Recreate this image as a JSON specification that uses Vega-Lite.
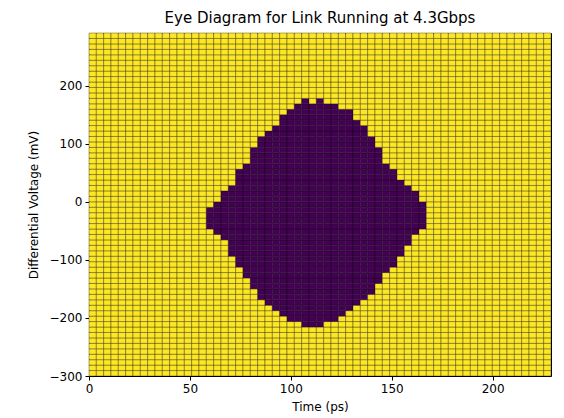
{
  "$schema": "https://vega.github.io/schema/vega-lite/v6.json",
  "width": 462,
  "height": 343,
  "autosize": {"type": "none"},
  "padding": {"left": 89, "top": 33, "right": 13, "bottom": 42},
  "background": "white",
  "title": {
    "text": "Eye Diagram for Link Running at 4.3Gbps",
    "font": "DejaVu Sans",
    "fontSize": 15,
    "fontWeight": "normal",
    "color": "black",
    "anchor": "middle",
    "offset": 7
  },
  "config": {
    "view": {"stroke": "black", "strokeWidth": 1},
    "axis": {
      "labelFont": "DejaVu Sans",
      "labelFontSize": 12,
      "labelColor": "black",
      "labelFlush": false,
      "titleFont": "DejaVu Sans",
      "titleFontSize": 12,
      "titleFontWeight": "normal",
      "titleColor": "black",
      "tickColor": "black",
      "tickSize": 4,
      "domain": false,
      "grid": false
    }
  },
  "datasets": {
    "cols": [
      {"c": 1, "t0": 0, "t1": 3.63}, {"c": 2, "t0": 3.63, "t1": 7.27}, {"c": 3, "t0": 7.27, "t1": 10.9},
      {"c": 4, "t0": 10.9, "t1": 14.53}, {"c": 5, "t0": 14.53, "t1": 18.17}, {"c": 6, "t0": 18.17, "t1": 21.8},
      {"c": 7, "t0": 21.8, "t1": 25.44}, {"c": 8, "t0": 25.44, "t1": 29.07}, {"c": 9, "t0": 29.07, "t1": 32.7},
      {"c": 10, "t0": 32.7, "t1": 36.34}, {"c": 11, "t0": 36.34, "t1": 39.97}, {"c": 12, "t0": 39.97, "t1": 43.6},
      {"c": 13, "t0": 43.6, "t1": 47.24}, {"c": 14, "t0": 47.24, "t1": 50.87}, {"c": 15, "t0": 50.87, "t1": 54.51},
      {"c": 16, "t0": 54.51, "t1": 58.14}, {"c": 17, "t0": 58.14, "t1": 61.77}, {"c": 18, "t0": 61.77, "t1": 65.41},
      {"c": 19, "t0": 65.41, "t1": 69.04}, {"c": 20, "t0": 69.04, "t1": 72.67}, {"c": 21, "t0": 72.67, "t1": 76.31},
      {"c": 22, "t0": 76.31, "t1": 79.94}, {"c": 23, "t0": 79.94, "t1": 83.58}, {"c": 24, "t0": 83.58, "t1": 87.21},
      {"c": 25, "t0": 87.21, "t1": 90.84}, {"c": 26, "t0": 90.84, "t1": 94.48}, {"c": 27, "t0": 94.48, "t1": 98.11},
      {"c": 28, "t0": 98.11, "t1": 101.74}, {"c": 29, "t0": 101.74, "t1": 105.38}, {"c": 30, "t0": 105.38, "t1": 109.01},
      {"c": 31, "t0": 109.01, "t1": 112.65}, {"c": 32, "t0": 112.65, "t1": 116.28}, {"c": 33, "t0": 116.28, "t1": 119.91},
      {"c": 34, "t0": 119.91, "t1": 123.55}, {"c": 35, "t0": 123.55, "t1": 127.18}, {"c": 36, "t0": 127.18, "t1": 130.81},
      {"c": 37, "t0": 130.81, "t1": 134.45}, {"c": 38, "t0": 134.45, "t1": 138.08}, {"c": 39, "t0": 138.08, "t1": 141.72},
      {"c": 40, "t0": 141.72, "t1": 145.35}, {"c": 41, "t0": 145.35, "t1": 148.98}, {"c": 42, "t0": 148.98, "t1": 152.62},
      {"c": 43, "t0": 152.62, "t1": 156.25}, {"c": 44, "t0": 156.25, "t1": 159.88}, {"c": 45, "t0": 159.88, "t1": 163.52},
      {"c": 46, "t0": 163.52, "t1": 167.15}, {"c": 47, "t0": 167.15, "t1": 170.78}, {"c": 48, "t0": 170.78, "t1": 174.42},
      {"c": 49, "t0": 174.42, "t1": 178.05}, {"c": 50, "t0": 178.05, "t1": 181.69}, {"c": 51, "t0": 181.69, "t1": 185.32},
      {"c": 52, "t0": 185.32, "t1": 188.95}, {"c": 53, "t0": 188.95, "t1": 192.59}, {"c": 54, "t0": 192.59, "t1": 196.22},
      {"c": 55, "t0": 196.22, "t1": 199.85}, {"c": 56, "t0": 199.85, "t1": 203.49}, {"c": 57, "t0": 203.49, "t1": 207.12},
      {"c": 58, "t0": 207.12, "t1": 210.76}, {"c": 59, "t0": 210.76, "t1": 214.39}, {"c": 60, "t0": 214.39, "t1": 218.02},
      {"c": 61, "t0": 218.02, "t1": 221.66}, {"c": 62, "t0": 221.66, "t1": 225.29}, {"c": 63, "t0": 225.29, "t1": 228.92}
    ],
    "rows": [
      {"v0": -300, "v1": -290.625, "s": [1,1,1,1,1,1,1,1,1,1, 1,1,1,1,1,1,1,1,1,1, 1,1,1,1,1,1,1,1,1,1, 1,1,1,1,1,1,1,1,1,1, 1,1,1,1,1,1,1,1,1,1, 1,1,1,1,1,1,1,1,1,1, 1,1,1]},
      {"v0": -290.625, "v1": -281.25, "s": [1,1,1,1,1,1,1,1,1,1, 1,1,1,1,1,1,1,1,1,1, 1,1,1,1,1,1,1,1,1,1, 1,1,1,1,1,1,1,1,1,1, 1,1,1,1,1,1,1,1,1,1, 1,1,1,1,1,1,1,1,1,1, 1,1,1]},
      {"v0": -281.25, "v1": -271.875, "s": [1,1,1,1,1,1,1,1,1,1, 1,1,1,1,1,1,1,1,1,1, 1,1,1,1,1,1,1,1,1,1, 1,1,1,1,1,1,1,1,1,1, 1,1,1,1,1,1,1,1,1,1, 1,1,1,1,1,1,1,1,1,1, 1,1,1]},
      {"v0": -271.875, "v1": -262.5, "s": [1,1,1,1,1,1,1,1,1,1, 1,1,1,1,1,1,1,1,1,1, 1,1,1,1,1,1,1,1,1,1, 1,1,1,1,1,1,1,1,1,1, 1,1,1,1,1,1,1,1,1,1, 1,1,1,1,1,1,1,1,1,1, 1,1,1]},
      {"v0": -262.5, "v1": -253.125, "s": [1,1,1,1,1,1,1,1,1,1, 1,1,1,1,1,1,1,1,1,1, 1,1,1,1,1,1,1,1,1,1, 1,1,1,1,1,1,1,1,1,1, 1,1,1,1,1,1,1,1,1,1, 1,1,1,1,1,1,1,1,1,1, 1,1,1]},
      {"v0": -253.125, "v1": -243.75, "s": [1,1,1,1,1,1,1,1,1,1, 1,1,1,1,1,1,1,1,1,1, 1,1,1,1,1,1,1,1,1,1, 1,1,1,1,1,1,1,1,1,1, 1,1,1,1,1,1,1,1,1,1, 1,1,1,1,1,1,1,1,1,1, 1,1,1]},
      {"v0": -243.75, "v1": -234.375, "s": [1,1,1,1,1,1,1,1,1,1, 1,1,1,1,1,1,1,1,1,1, 1,1,1,1,1,1,1,1,1,1, 1,1,1,1,1,1,1,1,1,1, 1,1,1,1,1,1,1,1,1,1, 1,1,1,1,1,1,1,1,1,1, 1,1,1]},
      {"v0": -234.375, "v1": -225, "s": [1,1,1,1,1,1,1,1,1,1, 1,1,1,1,1,1,1,1,1,1, 1,1,1,1,1,1,1,1,1,1, 1,1,1,1,1,1,1,1,1,1, 1,1,1,1,1,1,1,1,1,1, 1,1,1,1,1,1,1,1,1,1, 1,1,1]},
      {"v0": -225, "v1": -215.625, "s": [1,1,1,1,1,1,1,1,1,1, 1,1,1,1,1,1,1,1,1,1, 1,1,1,1,1,1,1,1,1,1, 1,1,1,1,1,1,1,1,1,1, 1,1,1,1,1,1,1,1,1,1, 1,1,1,1,1,1,1,1,1,1, 1,1,1]},
      {"v0": -215.625, "v1": -206.25, "s": [1,1,1,1,1,1,1,1,1,1, 1,1,1,1,1,1,1,1,1,1, 1,1,1,1,1,1,1,1,1,0, 0,0,1,1,1,1,1,1,1,1, 1,1,1,1,1,1,1,1,1,1, 1,1,1,1,1,1,1,1,1,1, 1,1,1]},
      {"v0": -206.25, "v1": -196.875, "s": [1,1,1,1,1,1,1,1,1,1, 1,1,1,1,1,1,1,1,1,1, 1,1,1,1,1,1,1,0,0,0, 0,0,0,0,1,1,1,1,1,1, 1,1,1,1,1,1,1,1,1,1, 1,1,1,1,1,1,1,1,1,1, 1,1,1]},
      {"v0": -196.875, "v1": -187.5, "s": [1,1,1,1,1,1,1,1,1,1, 1,1,1,1,1,1,1,1,1,1, 1,1,1,1,1,1,0,0,0,0, 0,0,0,0,0,1,1,1,1,1, 1,1,1,1,1,1,1,1,1,1, 1,1,1,1,1,1,1,1,1,1, 1,1,1]},
      {"v0": -187.5, "v1": -178.125, "s": [1,1,1,1,1,1,1,1,1,1, 1,1,1,1,1,1,1,1,1,1, 1,1,1,1,1,0,0,0,0,0, 0,0,0,0,0,0,1,1,1,1, 1,1,1,1,1,1,1,1,1,1, 1,1,1,1,1,1,1,1,1,1, 1,1,1]},
      {"v0": -178.125, "v1": -168.75, "s": [1,1,1,1,1,1,1,1,1,1, 1,1,1,1,1,1,1,1,1,1, 1,1,1,1,0,0,0,0,0,0, 0,0,0,0,0,0,0,1,1,1, 1,1,1,1,1,1,1,1,1,1, 1,1,1,1,1,1,1,1,1,1, 1,1,1]},
      {"v0": -168.75, "v1": -159.375, "s": [1,1,1,1,1,1,1,1,1,1, 1,1,1,1,1,1,1,1,1,1, 1,1,1,0,0,0,0,0,0,0, 0,0,0,0,0,0,0,0,1,1, 1,1,1,1,1,1,1,1,1,1, 1,1,1,1,1,1,1,1,1,1, 1,1,1]},
      {"v0": -159.375, "v1": -150, "s": [1,1,1,1,1,1,1,1,1,1, 1,1,1,1,1,1,1,1,1,1, 1,1,1,0,0,0,0,0,0,0, 0,0,0,0,0,0,0,0,0,1, 1,1,1,1,1,1,1,1,1,1, 1,1,1,1,1,1,1,1,1,1, 1,1,1]},
      {"v0": -150, "v1": -140.625, "s": [1,1,1,1,1,1,1,1,1,1, 1,1,1,1,1,1,1,1,1,1, 1,1,0,0,0,0,0,0,0,0, 0,0,0,0,0,0,0,0,0,1, 1,1,1,1,1,1,1,1,1,1, 1,1,1,1,1,1,1,1,1,1, 1,1,1]},
      {"v0": -140.625, "v1": -131.25, "s": [1,1,1,1,1,1,1,1,1,1, 1,1,1,1,1,1,1,1,1,1, 1,1,0,0,0,0,0,0,0,0, 0,0,0,0,0,0,0,0,0,0, 1,1,1,1,1,1,1,1,1,1, 1,1,1,1,1,1,1,1,1,1, 1,1,1]},
      {"v0": -131.25, "v1": -121.875, "s": [1,1,1,1,1,1,1,1,1,1, 1,1,1,1,1,1,1,1,1,1, 1,0,0,0,0,0,0,0,0,0, 0,0,0,0,0,0,0,0,0,0, 1,1,1,1,1,1,1,1,1,1, 1,1,1,1,1,1,1,1,1,1, 1,1,1]},
      {"v0": -121.875, "v1": -112.5, "s": [1,1,1,1,1,1,1,1,1,1, 1,1,1,1,1,1,1,1,1,1, 1,0,0,0,0,0,0,0,0,0, 0,0,0,0,0,0,0,0,0,0, 0,1,1,1,1,1,1,1,1,1, 1,1,1,1,1,1,1,1,1,1, 1,1,1]},
      {"v0": -112.5, "v1": -103.125, "s": [1,1,1,1,1,1,1,1,1,1, 1,1,1,1,1,1,1,1,1,1, 0,0,0,0,0,0,0,0,0,0, 0,0,0,0,0,0,0,0,0,0, 0,0,1,1,1,1,1,1,1,1, 1,1,1,1,1,1,1,1,1,1, 1,1,1]},
      {"v0": -103.125, "v1": -93.75, "s": [1,1,1,1,1,1,1,1,1,1, 1,1,1,1,1,1,1,1,1,1, 0,0,0,0,0,0,0,0,0,0, 0,0,0,0,0,0,0,0,0,0, 0,0,1,1,1,1,1,1,1,1, 1,1,1,1,1,1,1,1,1,1, 1,1,1]},
      {"v0": -93.75, "v1": -84.375, "s": [1,1,1,1,1,1,1,1,1,1, 1,1,1,1,1,1,1,1,1,0, 0,0,0,0,0,0,0,0,0,0, 0,0,0,0,0,0,0,0,0,0, 0,0,0,1,1,1,1,1,1,1, 1,1,1,1,1,1,1,1,1,1, 1,1,1]},
      {"v0": -84.375, "v1": -75, "s": [1,1,1,1,1,1,1,1,1,1, 1,1,1,1,1,1,1,1,1,0, 0,0,0,0,0,0,0,0,0,0, 0,0,0,0,0,0,0,0,0,0, 0,0,0,1,1,1,1,1,1,1, 1,1,1,1,1,1,1,1,1,1, 1,1,1]},
      {"v0": -75, "v1": -65.625, "s": [1,1,1,1,1,1,1,1,1,1, 1,1,1,1,1,1,1,1,1,0, 0,0,0,0,0,0,0,0,0,0, 0,0,0,0,0,0,0,0,0,0, 0,0,0,0,1,1,1,1,1,1, 1,1,1,1,1,1,1,1,1,1, 1,1,1]},
      {"v0": -65.625, "v1": -56.25, "s": [1,1,1,1,1,1,1,1,1,1, 1,1,1,1,1,1,1,1,0,0, 0,0,0,0,0,0,0,0,0,0, 0,0,0,0,0,0,0,0,0,0, 0,0,0,0,1,1,1,1,1,1, 1,1,1,1,1,1,1,1,1,1, 1,1,1]},
      {"v0": -56.25, "v1": -46.875, "s": [1,1,1,1,1,1,1,1,1,1, 1,1,1,1,1,1,1,0,0,0, 0,0,0,0,0,0,0,0,0,0, 0,0,0,0,0,0,0,0,0,0, 0,0,0,0,0,1,1,1,1,1, 1,1,1,1,1,1,1,1,1,1, 1,1,1]},
      {"v0": -46.875, "v1": -37.5, "s": [1,1,1,1,1,1,1,1,1,1, 1,1,1,1,1,1,0,0,0,0, 0,0,0,0,0,0,0,0,0,0, 0,0,0,0,0,0,0,0,0,0, 0,0,0,0,0,0,1,1,1,1, 1,1,1,1,1,1,1,1,1,1, 1,1,1]},
      {"v0": -37.5, "v1": -28.125, "s": [1,1,1,1,1,1,1,1,1,1, 1,1,1,1,1,1,0,0,0,0, 0,0,0,0,0,0,0,0,0,0, 0,0,0,0,0,0,0,0,0,0, 0,0,0,0,0,0,1,1,1,1, 1,1,1,1,1,1,1,1,1,1, 1,1,1]},
      {"v0": -28.125, "v1": -18.75, "s": [1,1,1,1,1,1,1,1,1,1, 1,1,1,1,1,1,0,0,0,0, 0,0,0,0,0,0,0,0,0,0, 0,0,0,0,0,0,0,0,0,0, 0,0,0,0,0,0,1,1,1,1, 1,1,1,1,1,1,1,1,1,1, 1,1,1]},
      {"v0": -18.75, "v1": -9.375, "s": [1,1,1,1,1,1,1,1,1,1, 1,1,1,1,1,1,0,0,0,0, 0,0,0,0,0,0,0,0,0,0, 0,0,0,0,0,0,0,0,0,0, 0,0,0,0,0,0,1,1,1,1, 1,1,1,1,1,1,1,1,1,1, 1,1,1]},
      {"v0": -9.375, "v1": 0, "s": [1,1,1,1,1,1,1,1,1,1, 1,1,1,1,1,1,1,0,0,0, 0,0,0,0,0,0,0,0,0,0, 0,0,0,0,0,0,0,0,0,0, 0,0,0,0,0,0,1,1,1,1, 1,1,1,1,1,1,1,1,1,1, 1,1,1]},
      {"v0": 0, "v1": 9.375, "s": [1,1,1,1,1,1,1,1,1,1, 1,1,1,1,1,1,1,1,0,0, 0,0,0,0,0,0,0,0,0,0, 0,0,0,0,0,0,0,0,0,0, 0,0,0,0,0,1,1,1,1,1, 1,1,1,1,1,1,1,1,1,1, 1,1,1]},
      {"v0": 9.375, "v1": 18.75, "s": [1,1,1,1,1,1,1,1,1,1, 1,1,1,1,1,1,1,1,0,0, 0,0,0,0,0,0,0,0,0,0, 0,0,0,0,0,0,0,0,0,0, 0,0,0,0,0,1,1,1,1,1, 1,1,1,1,1,1,1,1,1,1, 1,1,1]},
      {"v0": 18.75, "v1": 28.125, "s": [1,1,1,1,1,1,1,1,1,1, 1,1,1,1,1,1,1,1,1,0, 0,0,0,0,0,0,0,0,0,0, 0,0,0,0,0,0,0,0,0,0, 0,0,0,0,1,1,1,1,1,1, 1,1,1,1,1,1,1,1,1,1, 1,1,1]},
      {"v0": 28.125, "v1": 37.5, "s": [1,1,1,1,1,1,1,1,1,1, 1,1,1,1,1,1,1,1,1,1, 0,0,0,0,0,0,0,0,0,0, 0,0,0,0,0,0,0,0,0,0, 0,0,0,1,1,1,1,1,1,1, 1,1,1,1,1,1,1,1,1,1, 1,1,1]},
      {"v0": 37.5, "v1": 46.875, "s": [1,1,1,1,1,1,1,1,1,1, 1,1,1,1,1,1,1,1,1,1, 0,0,0,0,0,0,0,0,0,0, 0,0,0,0,0,0,0,0,0,0, 0,0,1,1,1,1,1,1,1,1, 1,1,1,1,1,1,1,1,1,1, 1,1,1]},
      {"v0": 46.875, "v1": 56.25, "s": [1,1,1,1,1,1,1,1,1,1, 1,1,1,1,1,1,1,1,1,1, 0,0,0,0,0,0,0,0,0,0, 0,0,0,0,0,0,0,0,0,0, 0,0,1,1,1,1,1,1,1,1, 1,1,1,1,1,1,1,1,1,1, 1,1,1]},
      {"v0": 56.25, "v1": 65.625, "s": [1,1,1,1,1,1,1,1,1,1, 1,1,1,1,1,1,1,1,1,1, 1,0,0,0,0,0,0,0,0,0, 0,0,0,0,0,0,0,0,0,0, 0,1,1,1,1,1,1,1,1,1, 1,1,1,1,1,1,1,1,1,1, 1,1,1]},
      {"v0": 65.625, "v1": 75, "s": [1,1,1,1,1,1,1,1,1,1, 1,1,1,1,1,1,1,1,1,1, 1,1,0,0,0,0,0,0,0,0, 0,0,0,0,0,0,0,0,0,0, 1,1,1,1,1,1,1,1,1,1, 1,1,1,1,1,1,1,1,1,1, 1,1,1]},
      {"v0": 75, "v1": 84.375, "s": [1,1,1,1,1,1,1,1,1,1, 1,1,1,1,1,1,1,1,1,1, 1,1,0,0,0,0,0,0,0,0, 0,0,0,0,0,0,0,0,0,0, 1,1,1,1,1,1,1,1,1,1, 1,1,1,1,1,1,1,1,1,1, 1,1,1]},
      {"v0": 84.375, "v1": 93.75, "s": [1,1,1,1,1,1,1,1,1,1, 1,1,1,1,1,1,1,1,1,1, 1,1,0,0,0,0,0,0,0,0, 0,0,0,0,0,0,0,0,0,0, 1,1,1,1,1,1,1,1,1,1, 1,1,1,1,1,1,1,1,1,1, 1,1,1]},
      {"v0": 93.75, "v1": 103.125, "s": [1,1,1,1,1,1,1,1,1,1, 1,1,1,1,1,1,1,1,1,1, 1,1,1,0,0,0,0,0,0,0, 0,0,0,0,0,0,0,0,0,1, 1,1,1,1,1,1,1,1,1,1, 1,1,1,1,1,1,1,1,1,1, 1,1,1]},
      {"v0": 103.125, "v1": 112.5, "s": [1,1,1,1,1,1,1,1,1,1, 1,1,1,1,1,1,1,1,1,1, 1,1,1,0,0,0,0,0,0,0, 0,0,0,0,0,0,0,0,0,1, 1,1,1,1,1,1,1,1,1,1, 1,1,1,1,1,1,1,1,1,1, 1,1,1]},
      {"v0": 112.5, "v1": 121.875, "s": [1,1,1,1,1,1,1,1,1,1, 1,1,1,1,1,1,1,1,1,1, 1,1,1,1,0,0,0,0,0,0, 0,0,0,0,0,0,0,0,1,1, 1,1,1,1,1,1,1,1,1,1, 1,1,1,1,1,1,1,1,1,1, 1,1,1]},
      {"v0": 121.875, "v1": 131.25, "s": [1,1,1,1,1,1,1,1,1,1, 1,1,1,1,1,1,1,1,1,1, 1,1,1,1,1,0,0,0,0,0, 0,0,0,0,0,0,0,0,1,1, 1,1,1,1,1,1,1,1,1,1, 1,1,1,1,1,1,1,1,1,1, 1,1,1]},
      {"v0": 131.25, "v1": 140.625, "s": [1,1,1,1,1,1,1,1,1,1, 1,1,1,1,1,1,1,1,1,1, 1,1,1,1,1,1,0,0,0,0, 0,0,0,0,0,0,0,1,1,1, 1,1,1,1,1,1,1,1,1,1, 1,1,1,1,1,1,1,1,1,1, 1,1,1]},
      {"v0": 140.625, "v1": 150, "s": [1,1,1,1,1,1,1,1,1,1, 1,1,1,1,1,1,1,1,1,1, 1,1,1,1,1,1,0,0,0,0, 0,0,0,0,0,0,1,1,1,1, 1,1,1,1,1,1,1,1,1,1, 1,1,1,1,1,1,1,1,1,1, 1,1,1]},
      {"v0": 150, "v1": 159.375, "s": [1,1,1,1,1,1,1,1,1,1, 1,1,1,1,1,1,1,1,1,1, 1,1,1,1,1,1,1,0,0,0, 0,0,0,0,0,0,1,1,1,1, 1,1,1,1,1,1,1,1,1,1, 1,1,1,1,1,1,1,1,1,1, 1,1,1]},
      {"v0": 159.375, "v1": 168.75, "s": [1,1,1,1,1,1,1,1,1,1, 1,1,1,1,1,1,1,1,1,1, 1,1,1,1,1,1,1,1,0,0, 0,0,0,0,1,1,1,1,1,1, 1,1,1,1,1,1,1,1,1,1, 1,1,1,1,1,1,1,1,1,1, 1,1,1]},
      {"v0": 168.75, "v1": 178.125, "s": [1,1,1,1,1,1,1,1,1,1, 1,1,1,1,1,1,1,1,1,1, 1,1,1,1,1,1,1,1,1,0, 1,0,1,1,1,1,1,1,1,1, 1,1,1,1,1,1,1,1,1,1, 1,1,1,1,1,1,1,1,1,1, 1,1,1]},
      {"v0": 178.125, "v1": 187.5, "s": [1,1,1,1,1,1,1,1,1,1, 1,1,1,1,1,1,1,1,1,1, 1,1,1,1,1,1,1,1,1,1, 1,1,1,1,1,1,1,1,1,1, 1,1,1,1,1,1,1,1,1,1, 1,1,1,1,1,1,1,1,1,1, 1,1,1]},
      {"v0": 187.5, "v1": 196.875, "s": [1,1,1,1,1,1,1,1,1,1, 1,1,1,1,1,1,1,1,1,1, 1,1,1,1,1,1,1,1,1,1, 1,1,1,1,1,1,1,1,1,1, 1,1,1,1,1,1,1,1,1,1, 1,1,1,1,1,1,1,1,1,1, 1,1,1]},
      {"v0": 196.875, "v1": 206.25, "s": [1,1,1,1,1,1,1,1,1,1, 1,1,1,1,1,1,1,1,1,1, 1,1,1,1,1,1,1,1,1,1, 1,1,1,1,1,1,1,1,1,1, 1,1,1,1,1,1,1,1,1,1, 1,1,1,1,1,1,1,1,1,1, 1,1,1]},
      {"v0": 206.25, "v1": 215.625, "s": [1,1,1,1,1,1,1,1,1,1, 1,1,1,1,1,1,1,1,1,1, 1,1,1,1,1,1,1,1,1,1, 1,1,1,1,1,1,1,1,1,1, 1,1,1,1,1,1,1,1,1,1, 1,1,1,1,1,1,1,1,1,1, 1,1,1]},
      {"v0": 215.625, "v1": 225, "s": [1,1,1,1,1,1,1,1,1,1, 1,1,1,1,1,1,1,1,1,1, 1,1,1,1,1,1,1,1,1,1, 1,1,1,1,1,1,1,1,1,1, 1,1,1,1,1,1,1,1,1,1, 1,1,1,1,1,1,1,1,1,1, 1,1,1]},
      {"v0": 225, "v1": 234.375, "s": [1,1,1,1,1,1,1,1,1,1, 1,1,1,1,1,1,1,1,1,1, 1,1,1,1,1,1,1,1,1,1, 1,1,1,1,1,1,1,1,1,1, 1,1,1,1,1,1,1,1,1,1, 1,1,1,1,1,1,1,1,1,1, 1,1,1]},
      {"v0": 234.375, "v1": 243.75, "s": [1,1,1,1,1,1,1,1,1,1, 1,1,1,1,1,1,1,1,1,1, 1,1,1,1,1,1,1,1,1,1, 1,1,1,1,1,1,1,1,1,1, 1,1,1,1,1,1,1,1,1,1, 1,1,1,1,1,1,1,1,1,1, 1,1,1]},
      {"v0": 243.75, "v1": 253.125, "s": [1,1,1,1,1,1,1,1,1,1, 1,1,1,1,1,1,1,1,1,1, 1,1,1,1,1,1,1,1,1,1, 1,1,1,1,1,1,1,1,1,1, 1,1,1,1,1,1,1,1,1,1, 1,1,1,1,1,1,1,1,1,1, 1,1,1]},
      {"v0": 253.125, "v1": 262.5, "s": [1,1,1,1,1,1,1,1,1,1, 1,1,1,1,1,1,1,1,1,1, 1,1,1,1,1,1,1,1,1,1, 1,1,1,1,1,1,1,1,1,1, 1,1,1,1,1,1,1,1,1,1, 1,1,1,1,1,1,1,1,1,1, 1,1,1]},
      {"v0": 262.5, "v1": 271.875, "s": [1,1,1,1,1,1,1,1,1,1, 1,1,1,1,1,1,1,1,1,1, 1,1,1,1,1,1,1,1,1,1, 1,1,1,1,1,1,1,1,1,1, 1,1,1,1,1,1,1,1,1,1, 1,1,1,1,1,1,1,1,1,1, 1,1,1]},
      {"v0": 271.875, "v1": 281.25, "s": [1,1,1,1,1,1,1,1,1,1, 1,1,1,1,1,1,1,1,1,1, 1,1,1,1,1,1,1,1,1,1, 1,1,1,1,1,1,1,1,1,1, 1,1,1,1,1,1,1,1,1,1, 1,1,1,1,1,1,1,1,1,1, 1,1,1]},
      {"v0": 281.25, "v1": 290.625, "s": [1,1,1,1,1,1,1,1,1,1, 1,1,1,1,1,1,1,1,1,1, 1,1,1,1,1,1,1,1,1,1, 1,1,1,1,1,1,1,1,1,1, 1,1,1,1,1,1,1,1,1,1, 1,1,1,1,1,1,1,1,1,1, 1,1,1]}
    ]
  },
  "data": {"name": "rows"},
  "transform": [
    {"flatten": ["s"]},
    {"window": [{"op": "row_number", "as": "c"}], "groupby": ["v0"]},
    {"lookup": "c", "from": {"data": {"name": "cols"}, "key": "c", "fields": ["t0", "t1"]}}
  ],
  "mark": {"type": "rect", "stroke": "black", "strokeWidth": 0.6, "strokeOpacity": 0.55},
  "encoding": {
    "x": {
      "field": "t0", "type": "quantitative",
      "scale": {"domain": [0, 228.92], "nice": false, "zero": false},
      "axis": {"title": "Time (ps)", "values": [0, 50, 100, 150, 200], "format": "d", "labelPadding": 3, "titlePadding": 7}
    },
    "x2": {"field": "t1"},
    "y": {
      "field": "v0", "type": "quantitative",
      "scale": {"domain": [-300, 290.625], "nice": false, "zero": false},
      "axis": {"title": "Differential Voltage (mV)", "values": [-300, -200, -100, 0, 100, 200], "format": "d", "labelPadding": 3, "titlePadding": 9}
    },
    "y2": {"field": "v1"},
    "fill": {
      "field": "s", "type": "quantitative",
      "scale": {"domain": [0, 1], "range": ["#440154", "#fde725"]},
      "legend": null
    }
  }
}
